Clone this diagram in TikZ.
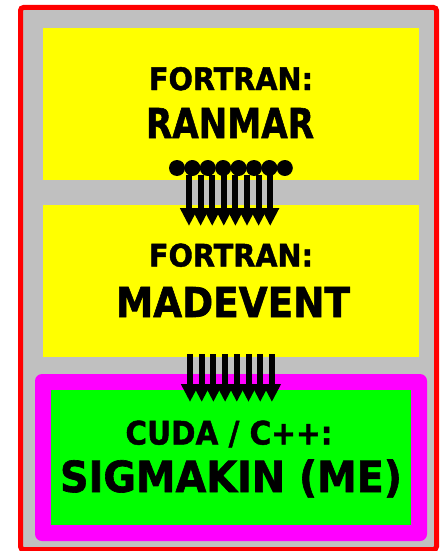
\documentclass[tikz,border=0pt]{standalone}
\usepackage{fontspec}
\setmainfont{DejaVu Sans}[BoldFeatures={FakeBold=1.5}]
\usetikzlibrary{arrows.meta}
\definecolor{grayfill}{RGB}{192,192,192}
\definecolor{yel}{RGB}{255,255,0}
\definecolor{mag}{RGB}{255,0,255}
\definecolor{grn}{RGB}{0,255,0}
\tikzset{
  ybox/.style={fill=yel, draw=none, inner sep=0pt, minimum width=376pt, minimum height=152pt},
  lbl/.style={inner sep=0pt, anchor=base, font=\bfseries},
  flow/.style={line width=6pt, -{Triangle[width=17pt,length=18pt]}},
  dot/.style={circle, fill=black, inner sep=0pt, minimum size=16pt},
}
\begin{document}
\begin{tikzpicture}[x=1pt,y=-1pt]
\useasboundingbox (0,0) rectangle (443,551);
% outer frame
\draw[red, line width=5pt, fill=grayfill, rounded corners=3pt] (20.5,7.5) rectangle (436.5,549.5);
% boxes
\node[ybox] (ranmar) at (231,104) {};
\node[ybox] (madevent) at (231,280.5) {};
\fill[mag, rounded corners=7pt] (35,374) rectangle (427,541);
\node[fill=grn, inner sep=0pt, minimum width=360pt, minimum height=135pt] (sigmakin) at (231,457.5) {};
% labels
\node[lbl] (t1) at (231,90) {\resizebox{164pt}{23pt}{FORTRAN:}};
\node[lbl] (t2) at (230,138) {\resizebox{168pt}{30pt}{RANMAR}};
\node[lbl] (t3) at (231,266.5) {\resizebox{164pt}{23pt}{FORTRAN:}};
\node[lbl] (t4) at (233,317) {\resizebox{234pt}{30pt}{MADEVENT}};
\node[lbl] (t5) at (229,444.5) {\resizebox{207pt}{24pt}{CUDA / C++:}};
\node[lbl] (t6) at (231,492) {\resizebox{342pt}{32.5pt}{SIGMAKIN (ME)}};
% arrows RANMAR -> MADEVENT
\foreach \k in {0,...,7}{
  \node[dot] (d\k) at ({177+15.4*\k},168) {};
  \coordinate (a\k) at ({189+11.6*\k},175);
  \coordinate (b\k) at ({189+11.6*\k},226);
  \draw[flow] (a\k) -- (b\k);
}
% arrows MADEVENT -> SIGMAKIN
\foreach \k in {0,...,7}{
  \coordinate (c\k) at ({190+11.7*\k},354);
  \coordinate (e\k) at ({190+11.7*\k},402);
  \draw[flow] (c\k) -- (e\k);
}
\end{tikzpicture}
\end{document}
